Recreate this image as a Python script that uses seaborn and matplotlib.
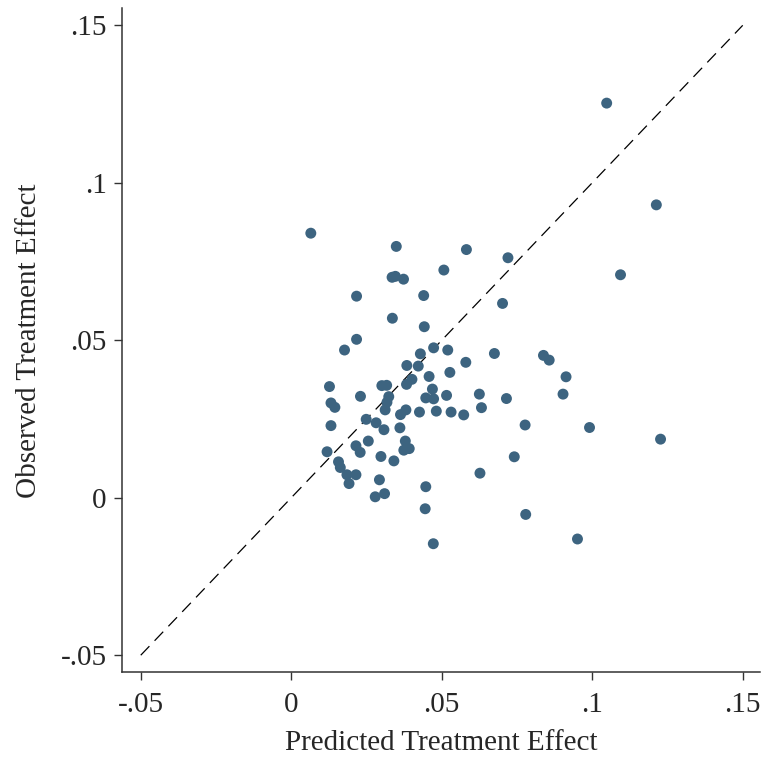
import numpy as np
import pandas as pd
import matplotlib
matplotlib.use("Agg")
import matplotlib.pyplot as plt
import seaborn as sns

# Predicted vs observed treatment effects
predicted = [0.0065, 0.1048, 0.1213, 0.1094, 0.0349, 0.0582, 0.0720, 0.0507, 0.0335, 0.0346,
             0.0373, 0.0702, 0.0217, 0.0440, 0.0336, 0.0442, 0.0217, 0.0177, 0.0473, 0.0520,
             0.0429, 0.0675, 0.0838, 0.0857, 0.0580, 0.0384, 0.0422, 0.0527, 0.0458, 0.0913,
             0.0401, 0.0383, 0.0127, 0.0301, 0.0317, 0.0469, 0.0230, 0.0132, 0.0145, 0.0324,
             0.0318, 0.0447, 0.0473, 0.0516, 0.0625, 0.0715, 0.0903, 0.0312, 0.0381, 0.0363,
             0.0426, 0.0482, 0.0531, 0.0573, 0.0632, 0.0132, 0.0249, 0.0282, 0.0308, 0.0361,
             0.0777, 0.0991, 0.1227, 0.0256, 0.0215, 0.0229, 0.0379, 0.0374, 0.0392, 0.0119,
             0.0298, 0.0157, 0.0163, 0.0341, 0.0741, 0.0185, 0.0215, 0.0192, 0.0293, 0.0627,
             0.0447, 0.0310, 0.0279, 0.0445, 0.0779, 0.0472, 0.0951]
observed = [0.0840, 0.1253, 0.0930, 0.0708, 0.0798, 0.0788, 0.0762, 0.0723, 0.0700, 0.0703,
            0.0694, 0.0617, 0.0640, 0.0642, 0.0570, 0.0543, 0.0503, 0.0469, 0.0476, 0.0469,
            0.0457, 0.0458, 0.0452, 0.0437, 0.0430, 0.0420, 0.0418, 0.0398, 0.0385, 0.0384,
            0.0376, 0.0360, 0.0353, 0.0356, 0.0357, 0.0345, 0.0322, 0.0301, 0.0287, 0.0321,
            0.0303, 0.0317, 0.0314, 0.0325, 0.0329, 0.0315, 0.0329, 0.0279, 0.0279, 0.0264,
            0.0272, 0.0275, 0.0272, 0.0263, 0.0286, 0.0229, 0.0249, 0.0238, 0.0216, 0.0222,
            0.0231, 0.0223, 0.0186, 0.0180, 0.0165, 0.0144, 0.0180, 0.0151, 0.0156, 0.0146,
            0.0131, 0.0114, 0.0096, 0.0117, 0.0130, 0.0073, 0.0073, 0.0045, 0.0057, 0.0078,
            0.0035, 0.0013, 0.0003, -0.0035, -0.0053, -0.0146, -0.0131]

ticks = [-0.05, 0, 0.05, 0.1, 0.15]
tick_labels = ["-.05", "0", ".05", ".1", ".15"]

df = pd.DataFrame({"Predicted": predicted, "Observed": observed})

sns.set_style("ticks")
plt.rcParams["font.family"] = ["Liberation Serif", "DejaVu Serif"]

fig = plt.figure(figsize=(7.66, 7.57), dpi=100)
ax = fig.add_axes([0.159, 0.112, 0.833, 0.877])

# 45 degree reference line
ax.plot([-0.05, 0.15], [-0.05, 0.15], color="black", lw=0.9,
        linestyle=(0, (10, 6)), zorder=1)

sns.scatterplot(data=df, x="Predicted", y="Observed", ax=ax, s=62,
                color="#3d6480", edgecolor="none", zorder=2)

ax.set_xlim(-0.0563, 0.1557)
ax.set_ylim(-0.0554, 0.1554)
ax.set_xticks(ticks)
ax.set_xticklabels(tick_labels)
ax.set_yticks(ticks)
ax.set_yticklabels(tick_labels)
ax.tick_params(axis="both", labelsize=21, length=6, width=1, color="#333333")
ax.tick_params(axis="x", pad=8)
ax.tick_params(axis="y", pad=5)
ax.set_xlabel("Predicted Treatment Effect", fontsize=21, labelpad=9)
ax.set_ylabel("Observed Treatment Effect", fontsize=21, labelpad=13)

for side in ["top", "right"]:
    ax.spines[side].set_visible(False)
for side in ["left", "bottom"]:
    ax.spines[side].set_linewidth(1.1)
    ax.spines[side].set_color("#333333")

fig.savefig("out.png", dpi=100, facecolor="white")
